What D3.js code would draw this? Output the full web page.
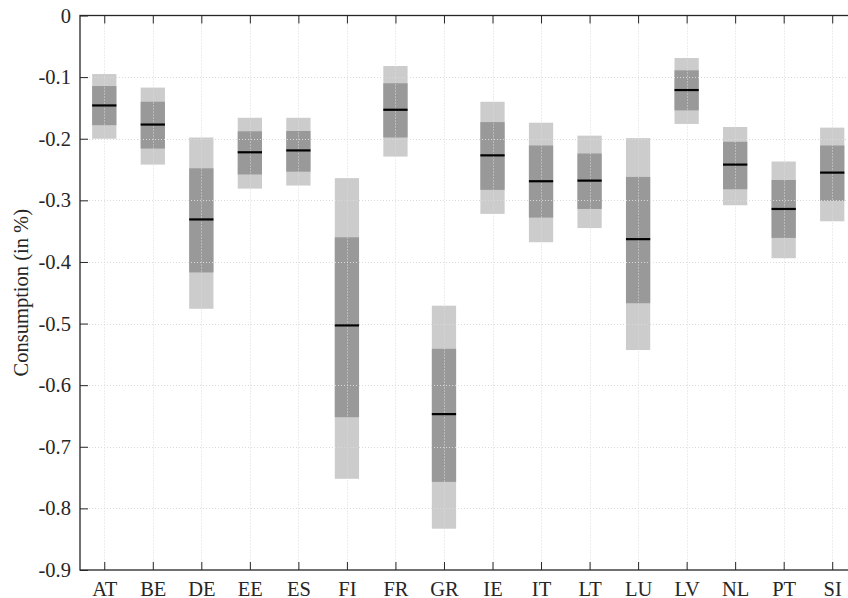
<!DOCTYPE html>
<html>
<head>
<meta charset="utf-8">
<script src="https://cdn.jsdelivr.net/npm/d3@7"></script>
<style>
  html, body { margin: 0; padding: 0; background: #fff; }
  svg { display: block; }
  text { font-family: "Liberation Serif", "Times New Roman", Times, serif; fill: #262626; }
</style>
</head>
<body>
<svg id="chart" width="848" height="598"></svg>
<script>
// Country codes along the x axis
const categories = ["AT", "BE", "DE", "EE", "ES", "FI", "FR", "GR", "IE", "IT", "LT", "LU", "LV", "NL", "PT", "SI"];

// Outer band (light grey): upper and lower edges
const outerHigh = [-0.095, -0.117, -0.198, -0.166, -0.166, -0.264, -0.082, -0.471, -0.140, -0.174, -0.195, -0.199, -0.069, -0.181, -0.237, -0.182];
const outerLow  = [-0.200, -0.242, -0.476, -0.281, -0.276, -0.752, -0.229, -0.833, -0.322, -0.368, -0.345, -0.543, -0.176, -0.308, -0.394, -0.334];

// Inner band (dark grey): upper and lower edges
const innerHigh = [-0.1145, -0.140, -0.248, -0.188, -0.1875, -0.360, -0.110, -0.541, -0.173, -0.211, -0.224, -0.262, -0.089, -0.205, -0.267, -0.211];
const innerLow  = [-0.178, -0.216, -0.417, -0.258, -0.2535, -0.652, -0.198, -0.757, -0.283, -0.328, -0.314, -0.467, -0.154, -0.282, -0.361, -0.301];

// Median response (black line)
const median = [-0.146, -0.177, -0.331, -0.222, -0.219, -0.503, -0.153, -0.647, -0.227, -0.269, -0.268, -0.363, -0.121, -0.242, -0.314, -0.255];

// Y axis ticks
const yTicks = [0, -0.1, -0.2, -0.3, -0.4, -0.5, -0.6, -0.7, -0.8, -0.9];

const rows = categories.map((c, i) => ({
  name: c, pos: i + 1,
  oh: outerHigh[i], ol: outerLow[i],
  ih: innerHigh[i], il: innerLow[i],
  med: median[i]
}));

const svg = d3.select("#chart");
const plotLeft = 80, plotTop = 15.5, plotBottom = 570, step = 48.53;
const plotRight = plotLeft + categories.length * step;

const x = d3.scaleLinear().domain([0.5, categories.length + 0.5]).range([plotLeft, plotRight]);
const y = d3.scaleLinear().domain([-0.9, 0]).range([plotBottom, plotTop]);
const boxW = x(1.25) - x(0.75);

const axisColor = "#262626";

// Light outer bands
svg.append("g").selectAll("rect").data(rows).join("rect")
  .attr("x", d => x(d.pos) - boxW / 2)
  .attr("width", boxW)
  .attr("y", d => y(d.oh))
  .attr("height", d => y(d.ol) - y(d.oh))
  .attr("fill", "#cccccc");

// Dark inner bands
svg.append("g").selectAll("rect").data(rows).join("rect")
  .attr("x", d => x(d.pos) - boxW / 2)
  .attr("width", boxW)
  .attr("y", d => y(d.ih))
  .attr("height", d => y(d.il) - y(d.ih))
  .attr("fill", "#999999");

// Dotted grid, drawn over the bands
const grid = svg.append("g")
  .attr("stroke", "#dadada")
  .attr("stroke-width", 1)
  .attr("stroke-dasharray", "1,2");
grid.selectAll("line.h").data(yTicks.filter(t => t !== 0 && t !== -0.9)).join("line")
  .attr("class", "h")
  .attr("x1", plotLeft).attr("x2", plotRight)
  .attr("y1", d => Math.round(y(d)) + 0.5).attr("y2", d => Math.round(y(d)) + 0.5);
grid.selectAll("line.v").data(rows).join("line")
  .attr("class", "v")
  .attr("y1", plotTop).attr("y2", plotBottom)
  .attr("x1", d => Math.round(x(d.pos)) + 0.5).attr("x2", d => Math.round(x(d.pos)) + 0.5);

// Median lines
svg.append("g").selectAll("line").data(rows).join("line")
  .attr("x1", d => x(d.pos) - boxW / 2)
  .attr("x2", d => x(d.pos) + boxW / 2)
  .attr("y1", d => y(d.med))
  .attr("y2", d => y(d.med))
  .attr("stroke", "#000")
  .attr("stroke-width", 2.2);

// Axes with inward ticks
const fontSize = 20.5;
const yAxis = d3.axisLeft(y).tickValues(yTicks).tickFormat(d => d === 0 ? "0" : d3.format(".1f")(d).replace("\u2212", "-"))
  .tickSizeInner(-8).tickSizeOuter(0).tickPadding(9);
const gy = svg.append("g").attr("transform", `translate(${plotLeft},0)`).call(yAxis);

const xAxis = d3.axisBottom(x).tickValues(rows.map(d => d.pos)).tickFormat((d, i) => categories[i])
  .tickSizeInner(-8).tickSizeOuter(0).tickPadding(11);
const gx = svg.append("g").attr("transform", `translate(0,${plotBottom})`).call(xAxis);

const xTop = d3.axisTop(x).tickValues(rows.map(d => d.pos)).tickFormat("")
  .tickSizeInner(-8).tickSizeOuter(0);
const gt = svg.append("g").attr("transform", `translate(0,${plotTop})`).call(xTop);

const yRight = d3.axisRight(y).tickValues(yTicks).tickFormat("").tickSizeInner(-8).tickSizeOuter(0);
const gr = svg.append("g").attr("transform", `translate(${plotRight},0)`).call(yRight);

[gy, gx, gt, gr].forEach(g => {
  g.select(".domain").remove();
  g.selectAll(".tick line").attr("stroke", axisColor).attr("stroke-width", 1);
  g.selectAll("text").attr("font-size", fontSize).attr("font-family", "Liberation Serif, Times New Roman, serif").attr("fill", axisColor);
});

// Box frame
svg.append("rect")
  .attr("x", plotLeft).attr("y", plotTop)
  .attr("width", plotRight - plotLeft).attr("height", plotBottom - plotTop)
  .attr("fill", "none").attr("stroke", axisColor).attr("stroke-width", 1.3);

// Y axis title
svg.append("text")
  .attr("transform", `translate(28,${(plotTop + plotBottom) / 2}) rotate(-90)`)
  .attr("text-anchor", "middle")
  .attr("font-size", fontSize)
  .text("Consumption (in %)");
</script>
</body>
</html>
